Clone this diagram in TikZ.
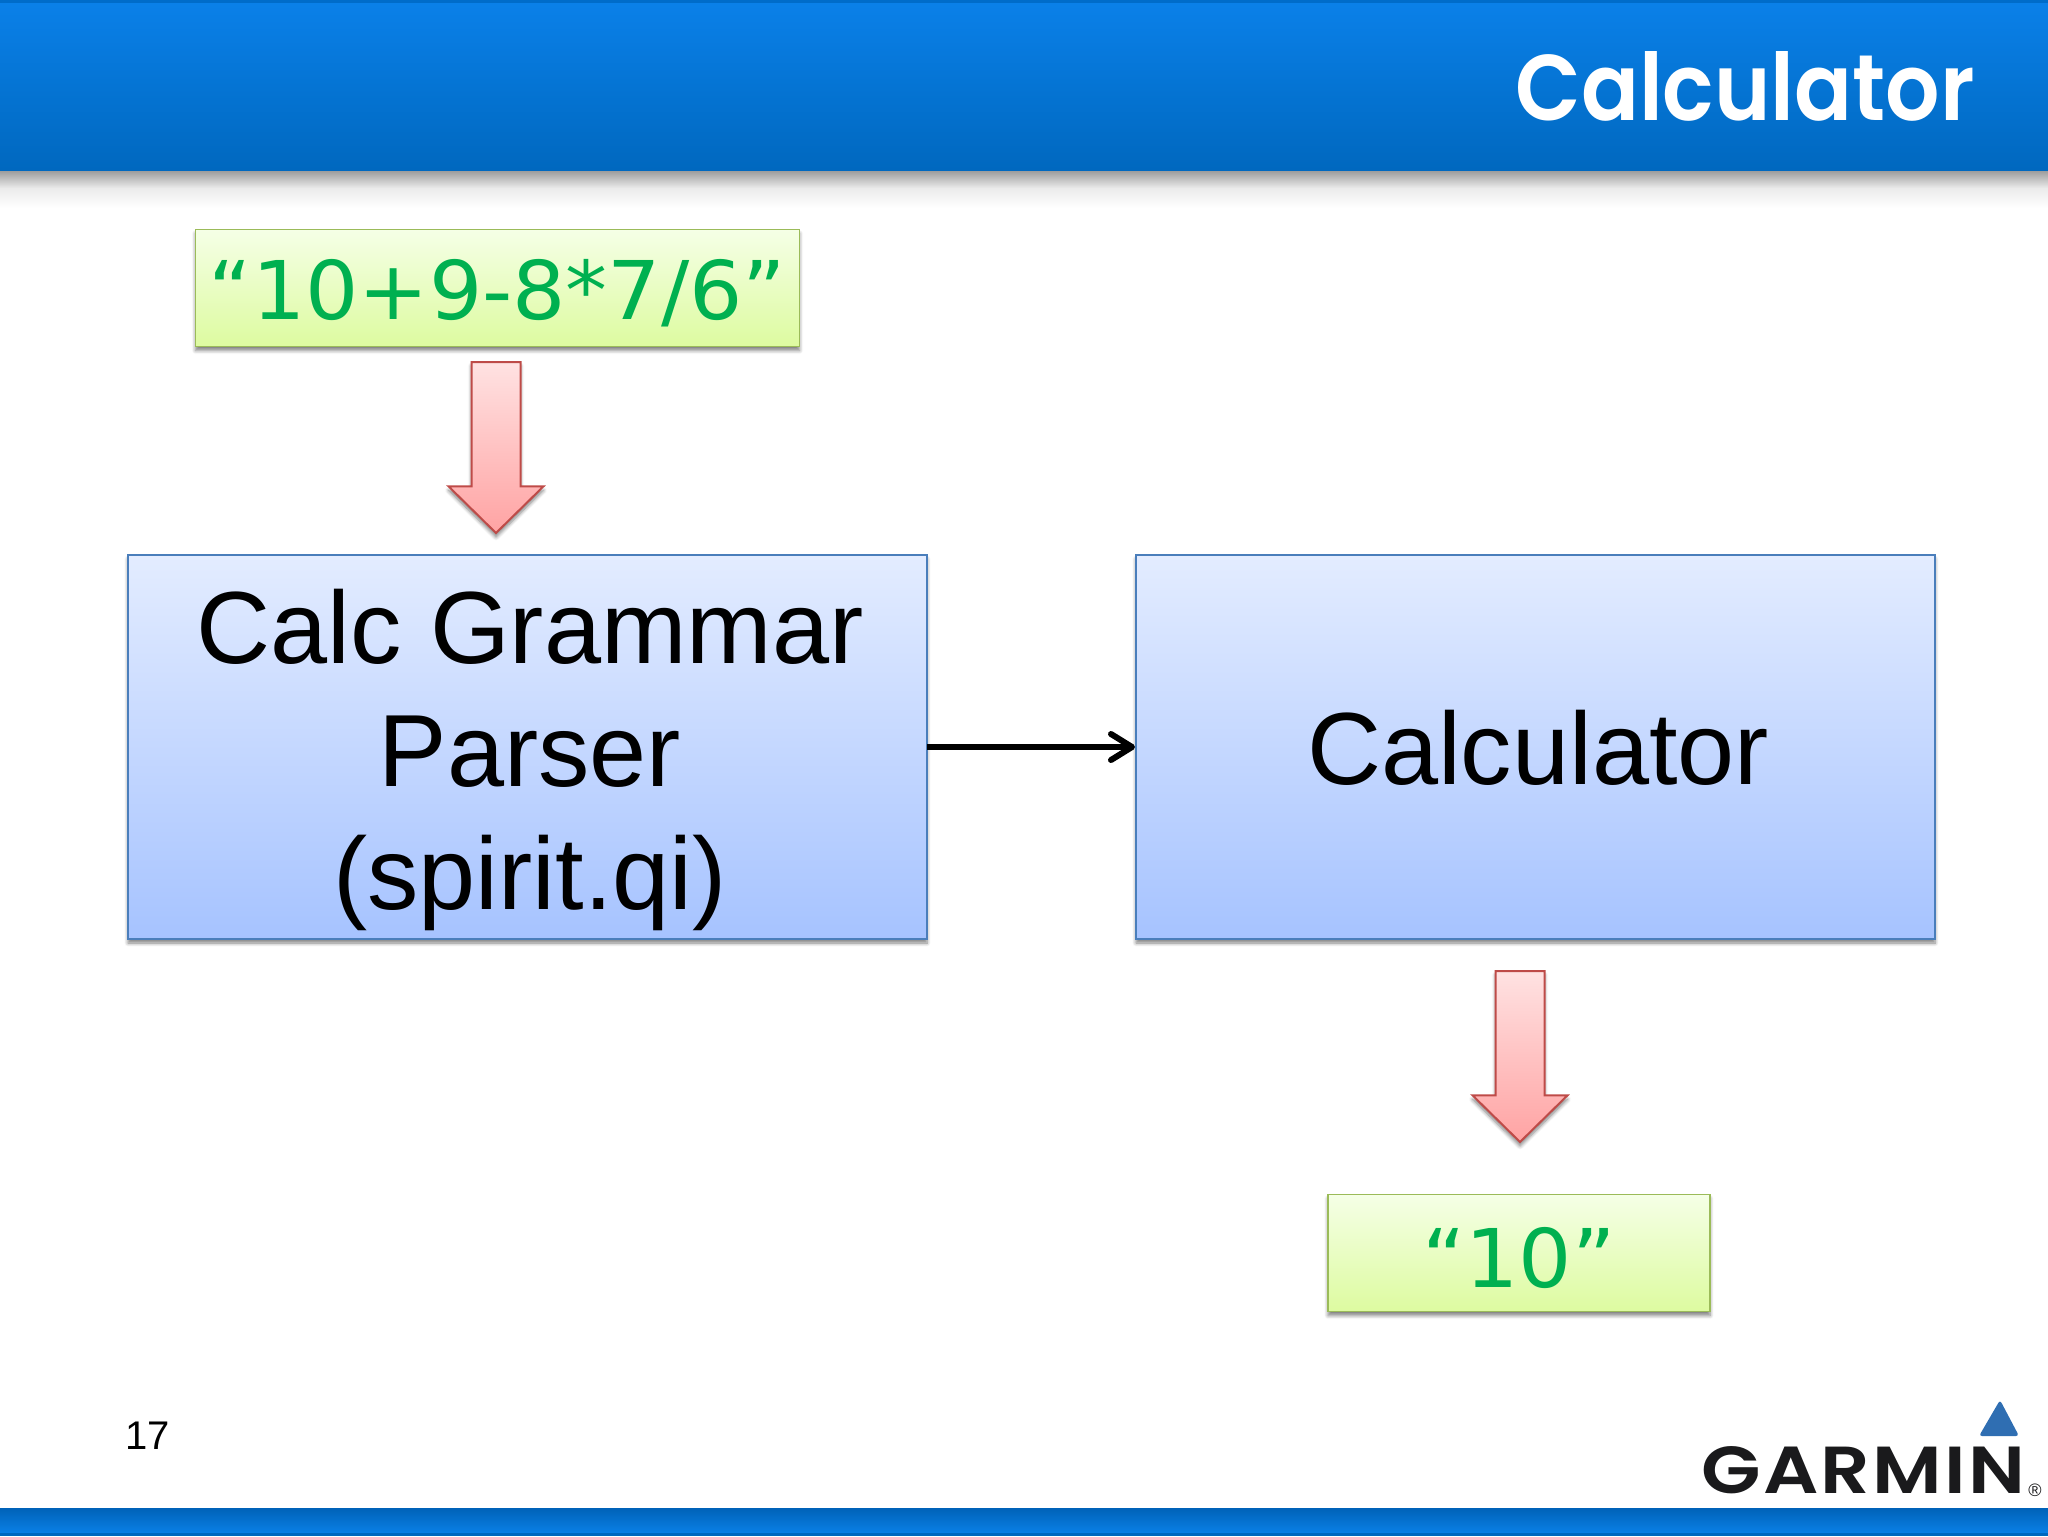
\documentclass[tikz,border=0pt]{standalone}
\usepackage{fontspec}
\usepackage{graphicx}
\usetikzlibrary{arrows.meta,shapes.arrows,shadows.blur}
\setmainfont{Liberation Sans}
\newfontfamily\greenfont{DejaVu Sans}
\newfontfamily\titlefont{Poppins SemiBold}
\newfontfamily\logofont[LetterSpace=3]{Poppins SemiBold}
\definecolor{bluetop}{HTML}{E3ECFF}
\definecolor{bluebot}{HTML}{A6C3FF}
\definecolor{blueline}{HTML}{4A7EBB}
\definecolor{greentop}{HTML}{F5FFE6}
\definecolor{greenbot}{HTML}{DDFBA0}
\definecolor{greenline}{HTML}{9BBB59}
\definecolor{redtop}{HTML}{FFE2E2}
\definecolor{redbot}{HTML}{FFA3A3}
\definecolor{redline}{HTML}{BE4B48}
\definecolor{textgreen}{HTML}{00B050}
\definecolor{logoblue}{HTML}{2F6EB2}
\definecolor{logoblack}{HTML}{1A1A1C}
\newcommand{\shaftbox}{\phantom{\rule{23.5pt}{23.5pt}}}
\newcommand{\greentext}[1]{\raisebox{-2.5pt}[\height][\depth]{\scalebox{1.035}[1]{#1}}}
\tikzset{
  softshadow/.style={blur shadow={shadow xshift=0pt,shadow yshift=-2pt,shadow blur steps=6,shadow blur radius=1.8pt,shadow opacity=50}},
  bluebox/.style={rectangle,draw=blueline,line width=1pt,top color=bluetop,bottom color=bluebot,minimum width=399.5pt,minimum height=192pt,inner sep=0pt,outer sep=0pt,softshadow},
  boxtext/.style={inner sep=0pt,outer sep=0pt,align=center,font=\fontsize{51.3}{61.7}\selectfont},
  greenbox/.style={rectangle,draw=greenline,line width=0.9pt,top color=greentop,bottom color=greenbot,inner sep=0pt,outer sep=0pt,text=textgreen,font=\greenfont\fontsize{40.5}{48}\selectfont,softshadow},
  blockarrow/.style={single arrow,shape border rotate=270,draw=redline,line width=1pt,top color=redtop,bottom color=redbot,minimum height=85.5pt,single arrow head extend=11.5pt,single arrow tip angle=91,single arrow head indent=0pt,inner sep=0pt,outer sep=0pt,anchor=tip,softshadow},
  barbline/.style={line width=3pt,shorten >=0.5pt,-{Straight Barb[length=10.5pt,width=13pt,round]}}
}
\begin{document}
\begin{tikzpicture}[x=0.5pt,y=-0.5pt]
\useasboundingbox (0,0) rectangle (2048,1536);
% header
\shade[top color=black!40!white,bottom color=black!8!white] (0,170) rectangle (2048,188);
\shade[top color=black!8!white,bottom color=white] (0,188) rectangle (2048,208);
\fill[color={rgb,255:red,0;green,108;blue,201}] (0,0) rectangle (2048,4);
\shade[top color={rgb,255:red,10;green,128;blue,232},bottom color={rgb,255:red,0;green,104;blue,191}] (0,4) rectangle (2048,170);
\node[anchor=base east,inner sep=0pt,text=white] (title) at (1975,120) {\resizebox{229.5pt}{34.5pt}{\titlefont Calculator}};
% footer
\shade[top color={rgb,255:red,0;green,98;blue,184},bottom color={rgb,255:red,10;green,128;blue,230}] (0,1508) rectangle (2048,1533);
\fill[color={rgb,255:red,0;green,104;blue,190}] (0,1533) rectangle (2048,1536);
\node[anchor=base west,inner sep=0pt,font=\fontsize{20}{24}\selectfont] (page) at (125,1449) {17};
% logo
\fill[logoblue,rounded corners=1.5pt] (2000,1400) -- (2019,1436) -- (1979,1436) -- cycle;
\node[anchor=south west,inner sep=0pt,text=logoblack] (logo) at (1701,1494) {\resizebox{162pt}{23.5pt}{\logofont GARMIN}};
\node[inner sep=0pt,text=logoblack,font=\fontsize{9}{10}\selectfont] (reg) at (2035,1490) {\textregistered};
% boxes
\node[greenbox,minimum width=302pt,minimum height=58.5pt] (input) at (497.5,288) {\greentext{“10+9-8*7/6”}};
\node[blockarrow] (arrowin) at (496,533) {\shaftbox};
\node[bluebox] (parser) at (527.5,747) {};
\node[boxtext] (parsertext) at (530,760) {Calc Grammar\\Parser\\(spirit.qi)};
\node[bluebox] (calc) at (1535.5,747) {};
\node[boxtext] (calctext) at (1538,748) {Calculator};
\node[blockarrow] (arrowout) at (1520,1142) {\shaftbox};
\node[greenbox,minimum width=191pt,minimum height=58.5pt] (output) at (1519,1253) {\greentext{“10”}};
\draw[barbline] (parser.east) -- (calc.west);
\end{tikzpicture}
\end{document}
